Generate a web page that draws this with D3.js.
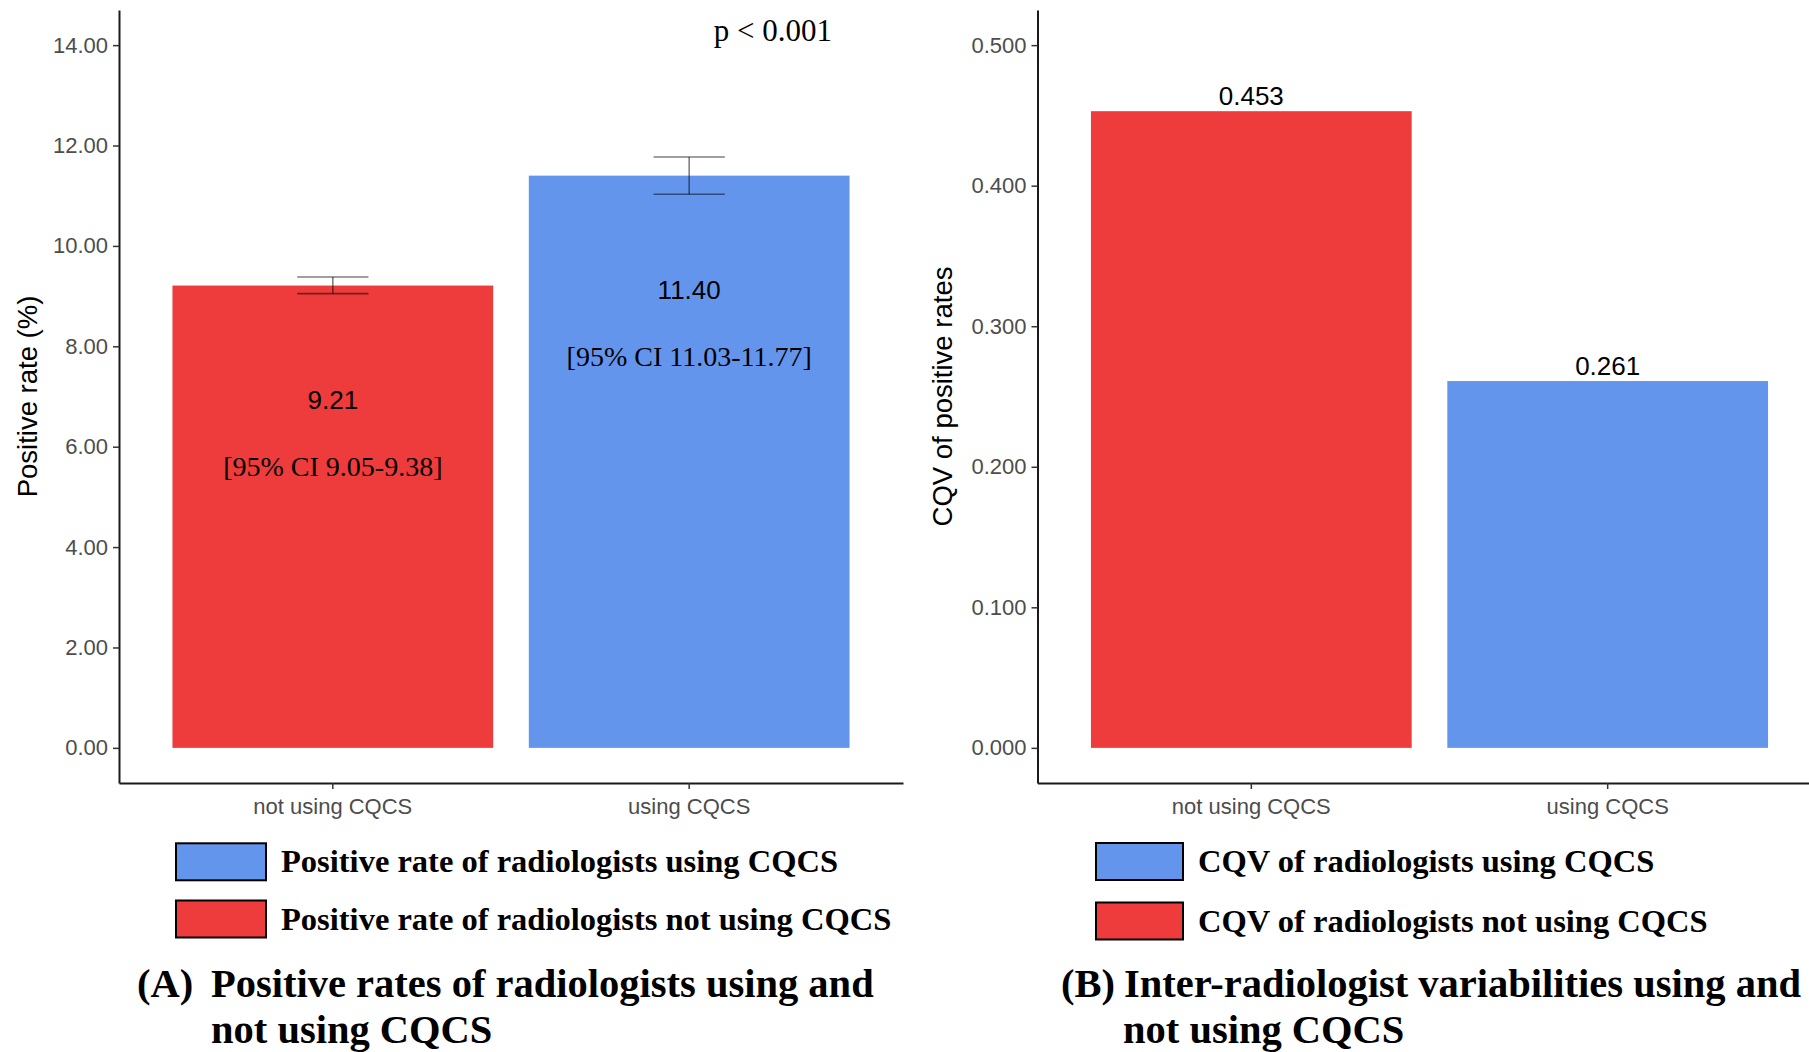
<!DOCTYPE html>
<meta charset="utf-8">
<style>
  body { margin: 0; background: #fff; }
  text.sans { font-family: "Liberation Sans", Arial, sans-serif; }
  text.serif { font-family: "Liberation Serif", "Times New Roman", serif; }
</style>
<svg width="1809" height="1052"></svg>
<script src="https://cdn.jsdelivr.net/npm/d3@7"></script>
<script>

var categories = ["not using CQCS", "using CQCS"];
var barColors = ["#EE3B3B", "#6495ED"];

// panel A
var positiveRate = [9.21, 11.40];
var ciLow = [9.05, 11.03];
var ciHigh = [9.38, 11.77];
var rateTicks = [0, 2, 4, 6, 8, 10, 12, 14];
var rateLegend = ["Positive rate of radiologists using CQCS", "Positive rate of radiologists not using CQCS"];

// panel B
var cqv = [0.453, 0.261];
var cqvTicks = [0, 0.1, 0.2, 0.3, 0.4, 0.5];
var cqvLegend = ["CQV of radiologists using CQCS", "CQV of radiologists not using CQCS"];

var svg = d3.select("svg");
svg.append("rect").attr("width", 1809).attr("height", 1052).attr("fill", "#fff");

function drawPanel(o) {
  var g = svg.append("g");

  var x = d3.scaleBand()
      .domain(categories)
      .range([o.left, o.left + 784])
      .paddingInner(0.1)
      .paddingOuter(0.15);

  var y = d3.scaleLinear()
      .domain(o.domain)
      .range([783, 10]);

  var rows = categories.map(function(c, i) {
    return { cat: c, value: o.values[i], color: barColors[i], lo: o.lo ? o.lo[i] : null, hi: o.hi ? o.hi[i] : null };
  });

  g.selectAll("rect.bar")
    .data(rows)
    .enter().append("rect")
      .attr("class", "bar")
      .attr("x", function(d) { return x(d.cat); })
      .attr("width", x.bandwidth())
      .attr("y", function(d) { return y(d.value); })
      .attr("height", function(d) { return y(0) - y(d.value); })
      .attr("fill", function(d) { return d.color; });

  // error bars
  if (o.lo) {
    var eb = g.selectAll("g.err")
      .data(rows)
      .enter().append("g")
        .attr("class", "err")
        .attr("stroke", "#000")
        .attr("stroke-opacity", 0.5)
        .attr("stroke-width", 1.6);
    var hw = x.step() * 0.1;
    eb.append("line")
      .attr("x1", function(d) { return x(d.cat) + x.bandwidth() / 2; })
      .attr("x2", function(d) { return x(d.cat) + x.bandwidth() / 2; })
      .attr("y1", function(d) { return y(d.hi); })
      .attr("y2", function(d) { return y(d.lo); });
    eb.append("line")
      .attr("x1", function(d) { return x(d.cat) + x.bandwidth() / 2 - hw; })
      .attr("x2", function(d) { return x(d.cat) + x.bandwidth() / 2 + hw; })
      .attr("y1", function(d) { return y(d.hi); })
      .attr("y2", function(d) { return y(d.hi); });
    eb.append("line")
      .attr("x1", function(d) { return x(d.cat) + x.bandwidth() / 2 - hw; })
      .attr("x2", function(d) { return x(d.cat) + x.bandwidth() / 2 + hw; })
      .attr("y1", function(d) { return y(d.lo); })
      .attr("y2", function(d) { return y(d.lo); });

    g.selectAll("text.val")
      .data(rows)
      .enter().append("text")
        .attr("class", "sans")
        .attr("x", function(d) { return x(d.cat) + x.bandwidth() / 2; })
        .attr("y", function(d) { return y(d.value) + 123; })
        .attr("text-anchor", "middle")
        .attr("font-size", 26)
        .text(function(d) { return d.value.toFixed(2); });

    g.selectAll("text.ci")
      .data(rows)
      .enter().append("text")
        .attr("class", "serif")
        .attr("x", function(d) { return x(d.cat) + x.bandwidth() / 2; })
        .attr("y", function(d) { return y(d.value) + 190; })
        .attr("text-anchor", "middle")
        .attr("font-size", 28)
        .text(function(d) { return "[95% CI " + d.lo.toFixed(2) + "-" + d.hi.toFixed(2) + "]"; });
  } else {
    g.selectAll("text.val")
      .data(rows)
      .enter().append("text")
        .attr("class", "sans")
        .attr("x", function(d) { return x(d.cat) + x.bandwidth() / 2; })
        .attr("y", function(d) { return y(d.value) - 6; })
        .attr("text-anchor", "middle")
        .attr("font-size", 26)
        .text(function(d) { return d.value.toFixed(3); });
  }

  // axes
  var ya = g.append("g")
      .attr("transform", "translate(" + o.left + ",0)")
      .call(d3.axisLeft(y).tickValues(o.ticks).tickFormat(d3.format(o.fmt)).tickSize(6).tickSizeOuter(0).tickPadding(5));
  var xa = g.append("g")
      .attr("transform", "translate(0,783)")
      .call(d3.axisBottom(x).tickSize(6).tickSizeOuter(0).tickPadding(9));
  [ya, xa].forEach(function(a) {
    a.select(".domain").attr("stroke", "#1a1a1a").attr("stroke-width", 2);
    a.selectAll(".tick line").attr("stroke", "#333").attr("stroke-width", 1.5);
    a.selectAll(".tick text")
      .attr("class", "sans")
      .attr("font-size", 22)
      .attr("fill", "#4d4d4d");
  });

  g.append("text")
    .attr("class", "sans")
    .attr("transform", "translate(" + o.titleX + ",396.5) rotate(-90)")
    .attr("text-anchor", "middle")
    .attr("font-size", 27.5)
    .text(o.title);

  // legend
  var lg = g.selectAll("g.leg")
    .data(o.legend)
    .enter().append("g")
      .attr("class", "leg")
      .attr("transform", function(d, i) { return "translate(" + o.legX + "," + o.legY[i] + ")"; });
  lg.append("rect")
    .attr("x", 0).attr("y", -18.5)
    .attr("width", o.legW).attr("height", 37)
    .attr("fill", function(d, i) { return barColors[1 - i]; })
    .attr("stroke", "#000").attr("stroke-width", 2);
  lg.append("text")
    .attr("class", "serif")
    .attr("x", o.legW + 15)
    .attr("y", 10.5)
    .attr("font-size", 32.5)
    .attr("font-weight", "bold")
    .text(function(d) { return d; });

  // caption
  var cap = g.append("g").attr("class", "cap");
  cap.append("text").attr("class", "serif").attr("x", o.capX[0]).attr("y", 997)
    .attr("font-size", 40.5).attr("font-weight", "bold").text(o.caption[0]);
  cap.append("text").attr("class", "serif").attr("x", o.capX[1]).attr("y", 997)
    .attr("font-size", 40.5).attr("font-weight", "bold").text(o.caption[1]);
  cap.append("text").attr("class", "serif").attr("x", o.capX[2]).attr("y", 1043)
    .attr("font-size", 40.5).attr("font-weight", "bold").text(o.caption[2]);

  return { x: x, y: y };
}

drawPanel({
  left: 119, domain: [-0.7, 14.7], values: positiveRate, lo: ciLow, hi: ciHigh,
  ticks: rateTicks, fmt: ".2f", title: "Positive rate (%)", titleX: 37,
  legend: rateLegend, legX: 176, legY: [861.8, 919], legW: 90,
  caption: ["(A)", "Positive rates of radiologists using and", "not using CQCS"], capX: [137, 211, 211]
});

drawPanel({
  left: 1037.5, domain: [-0.025, 0.525], values: cqv,
  ticks: cqvTicks, fmt: ".3f", title: "CQV of positive rates", titleX: 952,
  legend: cqvLegend, legX: 1096, legY: [861.5, 921], legW: 87,
  caption: ["(B)", "Inter-radiologist variabilities using and", "not using CQCS"], capX: [1061, 1124, 1123]
});

svg.append("text")
  .attr("class", "serif")
  .attr("x", 832)
  .attr("y", 41)
  .attr("text-anchor", "end")
  .attr("font-size", 31)
  .text("p < 0.001");

</script>
